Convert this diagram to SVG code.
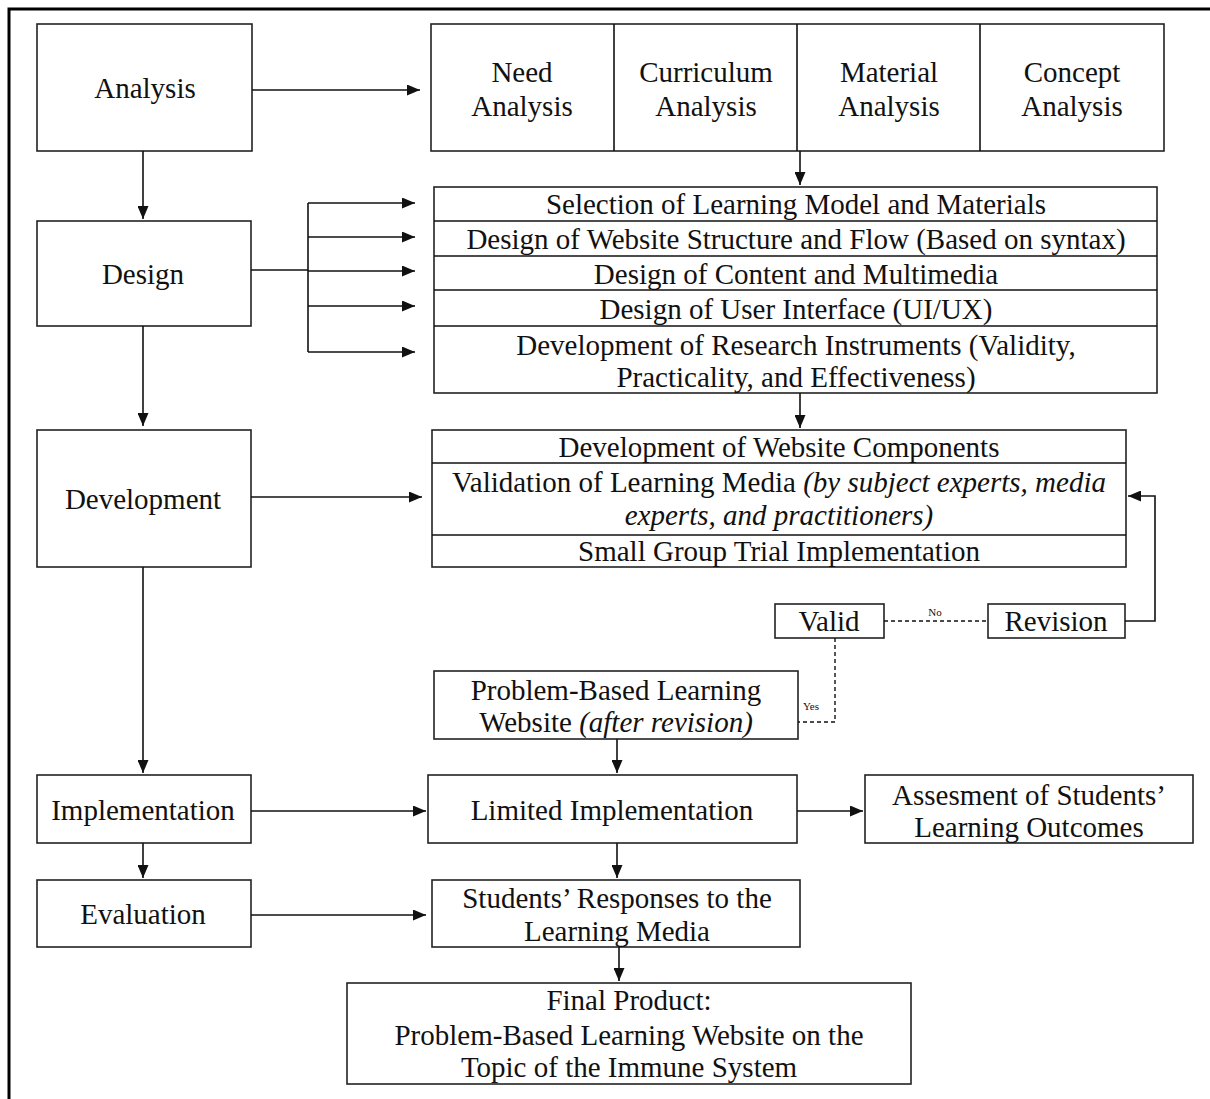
<svg xmlns="http://www.w3.org/2000/svg" width="1210" height="1099" viewBox="0 0 1210 1099">
<style>
.b{fill:#fff;stroke:#222;stroke-width:1.6}
.t{font-family:"Liberation Serif","Times New Roman",serif;font-size:29px;fill:#111;text-anchor:middle}
.i{font-style:italic}
.s{font-family:"Liberation Serif","Times New Roman",serif;font-size:11px;fill:#111;text-anchor:middle}
.c{fill:none;stroke:#111;stroke-width:1.6}
.d{fill:none;stroke:#111;stroke-width:1.4;stroke-dasharray:4 3}
</style>
<defs>
<marker id="a" viewBox="0 0 13 11" refX="13" refY="5.5" markerWidth="13" markerHeight="11" markerUnits="userSpaceOnUse" orient="auto">
<path d="M0,0 L13,5.5 L0,11 z" fill="#111"/>
</marker>
</defs>
<rect width="1210" height="1099" fill="#fff"/>
<path d="M9,1099 V9 H1210" fill="none" stroke="#000" stroke-width="3"/>

<g id="analysis"><rect class="b" x="37" y="24" width="215" height="127"/><text class="t" x="145" y="98">Analysis</text></g>
<g id="analysis-types">
<rect class="b" x="431" y="24" width="733" height="127"/>
<line class="c" x1="614" y1="24" x2="614" y2="151"/><line class="c" x1="797" y1="24" x2="797" y2="151"/><line class="c" x1="980" y1="24" x2="980" y2="151"/>
<text class="t" x="522" y="82">Need</text><text class="t" x="522" y="116">Analysis</text>
<text class="t" x="706" y="82">Curriculum</text><text class="t" x="706" y="116">Analysis</text>
<text class="t" x="889" y="82">Material</text><text class="t" x="889" y="116">Analysis</text>
<text class="t" x="1072" y="82">Concept</text><text class="t" x="1072" y="116">Analysis</text>
</g>
<g id="design"><rect class="b" x="37" y="221" width="214" height="105"/><text class="t" x="143" y="284">Design</text></g>
<g id="design-steps">
<rect class="b" x="434" y="187" width="723" height="206"/>
<line class="c" x1="434" y1="221" x2="1157" y2="221"/><line class="c" x1="434" y1="256" x2="1157" y2="256"/><line class="c" x1="434" y1="290" x2="1157" y2="290"/><line class="c" x1="434" y1="326" x2="1157" y2="326"/>
<text class="t" x="796" y="214">Selection of Learning Model and Materials</text>
<text class="t" x="796" y="249">Design of Website Structure and Flow (Based on syntax)</text>
<text class="t" x="796" y="284">Design of Content and Multimedia</text>
<text class="t" x="796" y="319">Design of User Interface (UI/UX)</text>
<text class="t" x="796" y="355">Development of Research Instruments (Validity,</text>
<text class="t" x="796" y="387">Practicality, and Effectiveness)</text>
</g>
<g id="development"><rect class="b" x="37" y="430" width="214" height="137"/><text class="t" x="143" y="509">Development</text></g>
<g id="development-steps">
<rect class="b" x="432" y="430" width="694" height="137"/>
<line class="c" x1="432" y1="463" x2="1126" y2="463"/><line class="c" x1="432" y1="535" x2="1126" y2="535"/>
<text class="t" x="779" y="457">Development of Website Components</text>
<text class="t" x="779" y="492">Validation of Learning Media <tspan class="i">(by subject experts, media</tspan></text>
<text class="t i" x="779" y="525">experts, and practitioners)</text>
<text class="t" x="779" y="561">Small Group Trial Implementation</text>
</g>
<g id="valid"><rect class="b" x="775" y="604" width="109" height="34"/><text class="t" x="829" y="631">Valid</text></g>
<g id="revision"><rect class="b" x="988" y="604" width="137" height="34"/><text class="t" x="1056" y="631">Revision</text></g>
<g id="pbl-website"><rect class="b" x="434" y="671" width="364" height="68"/><text class="t" x="616" y="700">Problem-Based Learning</text><text class="t" x="616" y="732">Website <tspan class="i">(after revision)</tspan></text></g>
<g id="implementation"><rect class="b" x="37" y="775" width="214" height="68"/><text class="t" x="143" y="820">Implementation</text></g>
<g id="limited"><rect class="b" x="428" y="775" width="369" height="68"/><text class="t" x="612" y="820">Limited Implementation</text></g>
<g id="assessment"><rect class="b" x="865" y="775" width="328" height="68"/><text class="t" x="1029" y="805">Assesment of Students’</text><text class="t" x="1029" y="837">Learning Outcomes</text></g>
<g id="evaluation"><rect class="b" x="37" y="880" width="214" height="67"/><text class="t" x="143" y="924">Evaluation</text></g>
<g id="responses"><rect class="b" x="432" y="880" width="368" height="67"/><text class="t" x="617" y="908">Students’ Responses to the</text><text class="t" x="617" y="941">Learning Media</text></g>
<g id="final"><rect class="b" x="347" y="983" width="564" height="101"/><text class="t" x="629" y="1010">Final Product:</text><text class="t" x="629" y="1045">Problem-Based Learning Website on the</text><text class="t" x="629" y="1077">Topic of the Immune System</text></g>

<g id="connectors">
<line class="c" x1="252" y1="90" x2="420" y2="90" marker-end="url(#a)"/>
<line class="c" x1="800" y1="151" x2="800" y2="185" marker-end="url(#a)"/>
<line class="c" x1="143" y1="151" x2="143" y2="219" marker-end="url(#a)"/>
<line class="c" x1="251" y1="270" x2="308" y2="270"/>
<line class="c" x1="308" y1="203" x2="308" y2="352"/>
<line class="c" x1="308" y1="203" x2="415" y2="203" marker-end="url(#a)"/>
<line class="c" x1="308" y1="237" x2="415" y2="237" marker-end="url(#a)"/>
<line class="c" x1="308" y1="271" x2="415" y2="271" marker-end="url(#a)"/>
<line class="c" x1="308" y1="306" x2="415" y2="306" marker-end="url(#a)"/>
<line class="c" x1="308" y1="352" x2="415" y2="352" marker-end="url(#a)"/>
<line class="c" x1="143" y1="326" x2="143" y2="426" marker-end="url(#a)"/>
<line class="c" x1="800" y1="393" x2="800" y2="428" marker-end="url(#a)"/>
<line class="c" x1="251" y1="497" x2="422" y2="497" marker-end="url(#a)"/>
<path class="c" d="M1125,621 H1155 V496 H1128" marker-end="url(#a)"/>
<line class="d" x1="884" y1="621" x2="988" y2="621"/>
<text class="s" x="935" y="616">No</text>
<path class="d" d="M835,638 V722 H798"/>
<text class="s" x="811" y="710">Yes</text>
<line class="c" x1="617" y1="739" x2="617" y2="773" marker-end="url(#a)"/>
<line class="c" x1="143" y1="567" x2="143" y2="773" marker-end="url(#a)"/>
<line class="c" x1="251" y1="811" x2="426" y2="811" marker-end="url(#a)"/>
<line class="c" x1="797" y1="811" x2="863" y2="811" marker-end="url(#a)"/>
<line class="c" x1="143" y1="843" x2="143" y2="878" marker-end="url(#a)"/>
<line class="c" x1="617" y1="843" x2="617" y2="878" marker-end="url(#a)"/>
<line class="c" x1="251" y1="915" x2="426" y2="915" marker-end="url(#a)"/>
<line class="c" x1="619" y1="947" x2="619" y2="981" marker-end="url(#a)"/>
</g>
</svg>
